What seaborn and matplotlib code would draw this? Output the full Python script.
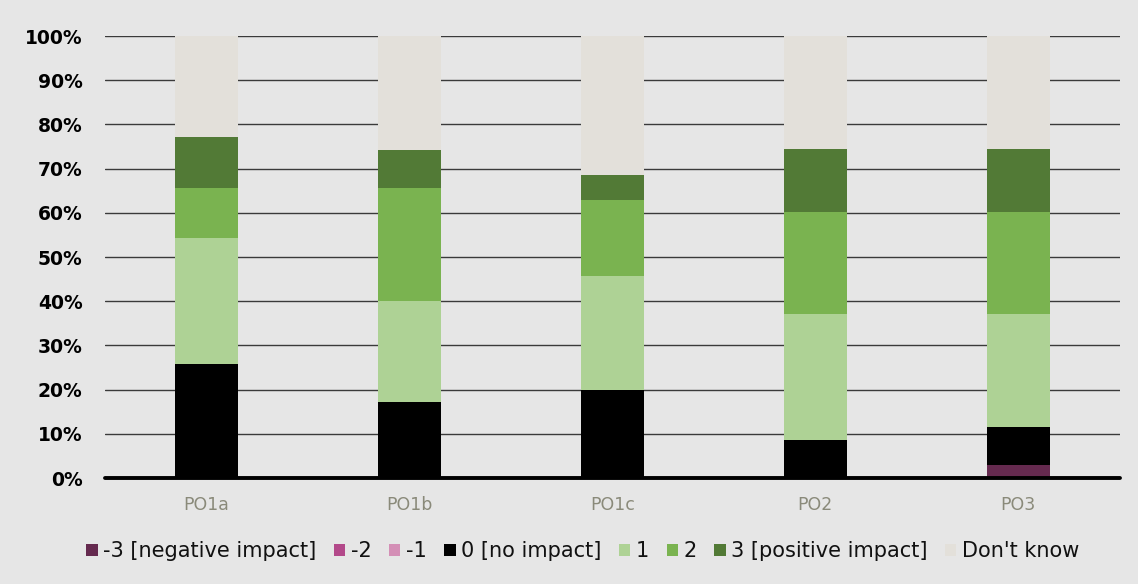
import numpy as np
import pandas as pd
import matplotlib
matplotlib.use("Agg")
import matplotlib.pyplot as plt
import matplotlib.patches as mpatches
import seaborn as sns

# ==============================
# DATA (percent of respondents)
# ==============================
categories = ["PO1a", "PO1b", "PO1c", "PO2", "PO3"]
series_names = ["-3 [negative impact]", "-2", "-1", "0 [no impact]", "1", "2",
                "3 [positive impact]", "Don't know"]

neg3 = [0.0, 0.0, 0.0, 0.0, 2.9]
neg2 = [0.0, 0.0, 0.0, 0.0, 0.0]
neg1 = [0.0, 0.0, 0.0, 0.0, 0.0]
zero = [25.7, 17.1, 20.0, 8.6, 8.6]
pos1 = [28.6, 22.9, 25.7, 28.6, 25.7]
pos2 = [11.4, 25.7, 17.1, 22.9, 22.9]
pos3 = [11.4, 8.6, 5.7, 14.3, 14.3]
dont_know = [22.9, 25.7, 31.4, 25.7, 25.7]

colors = ["#652a4f", "#b3498a", "#d48fb6", "#000000", "#aed295", "#7ab350",
          "#527a36", "#e3e0da"]

values = [neg3, neg2, neg1, zero, pos1, pos2, pos3, dont_know]

# ==============================
# PLOT
# ==============================
sns.set_theme(style="white")
plt.rcParams["font.family"] = ["DejaVu Sans"]

bg = "#e6e6e6"
fig = plt.figure(figsize=(11.38, 5.84), dpi=100, facecolor=bg)
ax = fig.add_axes([0.092, 0.1815, 0.892, 0.7568], facecolor=bg)

# stacked bars: draw cumulative totals from the top series down
cum = np.cumsum(np.array(values), axis=0) / 100.0
for i in range(len(values) - 1, -1, -1):
    df = pd.DataFrame({"cat": categories, "val": cum[i]})
    sns.barplot(data=df, x="cat", y="val", color=colors[i], saturation=1,
                width=0.31, linewidth=0, edgecolor="none", ax=ax, zorder=2)

ax.set_xlim(-0.5, 4.5)
ax.set_ylim(0, 1)
ax.set_yticks(np.arange(0, 1.01, 0.1))
ax.set_yticklabels([f"{int(round(t * 100))}%" for t in np.arange(0, 1.01, 0.1)],
                   fontsize=13.5, fontweight="bold", color="black")
ax.set_xlabel("")
ax.set_ylabel("")
ax.tick_params(axis="x", length=0, pad=13, labelsize=12.5, labelcolor="#8a8a7a")
ax.tick_params(axis="y", length=0, pad=16)

ax.yaxis.grid(True, color="#3a3a3a", linewidth=1)
ax.set_axisbelow(True)
for s in ax.spines.values():
    s.set_visible(False)
ax.axhline(0, color="black", linewidth=2.8, zorder=3, clip_on=False)

handles = [mpatches.Patch(facecolor=c, edgecolor="none", label=n)
           for c, n in zip(colors, series_names)]
fig.legend(handles=handles, loc="center", bbox_to_anchor=(0.512, 0.056),
           ncol=8, frameon=False, fontsize=15, labelcolor="#111111",
           handlelength=0.55, handleheight=0.55, handletextpad=0.25,
           columnspacing=0.85)

fig.savefig("out.png", dpi=100, facecolor=bg)
